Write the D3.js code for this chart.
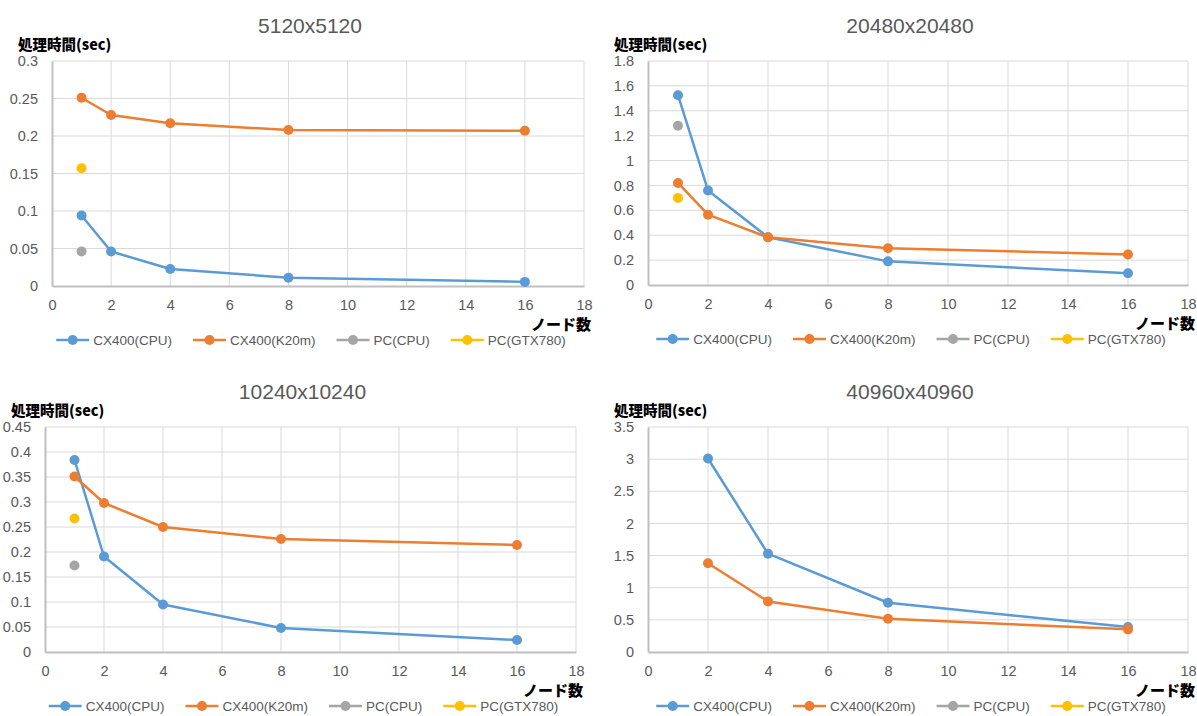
<!DOCTYPE html>
<html>
<head>
<meta charset="utf-8">
<script src="https://cdn.jsdelivr.net/npm/d3@7/dist/d3.min.js"></script>
<style>
  html, body { margin: 0; padding: 0; background: #fff; }
  svg { display: block; }
  text { font-family: "Liberation Sans", Arial, sans-serif; }
  .jp { font-family: "Noto Sans CJK JP", "Noto Sans", sans-serif; font-weight: 900; }
</style>
</head>
<body>
<svg id="chart" width="1197" height="716"></svg>
<script>
// ---------- DATA ----------
const seriesNames = ["CX400(CPU)", "CX400(K20m)", "PC(CPU)", "PC(GTX780)"];
const xTicks = [0, 2, 4, 6, 8, 10, 12, 14, 16, 18];
const yAxisTitle = "処理時間(sec)";
const xAxisTitle = "ノード数";

// 5120x5120
const title5120 = "5120x5120";
const nodes5120 = [1, 2, 4, 8, 16];
const cx400cpu5120 = [0.094, 0.046, 0.0227, 0.011, 0.0055];
const cx400k20m5120 = [0.251, 0.228, 0.217, 0.208, 0.207];
const pcNodes5120 = [1];
const pccpu5120 = [0.046];
const pcgtx5120 = [0.157];
const yTicks5120 = [0, 0.05, 0.1, 0.15, 0.2, 0.25, 0.3];

// 20480x20480
const title20480 = "20480x20480";
const nodes20480 = [1, 2, 4, 8, 16];
const cx400cpu20480 = [1.525, 0.76, 0.384, 0.19, 0.095];
const cx400k20m20480 = [0.82, 0.565, 0.383, 0.296, 0.245];
const pcNodes20480 = [1];
const pccpu20480 = [1.28];
const pcgtx20480 = [0.70];
const yTicks20480 = [0, 0.2, 0.4, 0.6, 0.8, 1, 1.2, 1.4, 1.6, 1.8];

// 10240x10240
const title10240 = "10240x10240";
const nodes10240 = [1, 2, 4, 8, 16];
const cx400cpu10240 = [0.384, 0.191, 0.095, 0.048, 0.024];
const cx400k20m10240 = [0.351, 0.298, 0.25, 0.226, 0.214];
const pcNodes10240 = [1];
const pccpu10240 = [0.173];
const pcgtx10240 = [0.267];
const yTicks10240 = [0, 0.05, 0.1, 0.15, 0.2, 0.25, 0.3, 0.35, 0.4, 0.45];

// 40960x40960
const title40960 = "40960x40960";
const nodes40960 = [2, 4, 8, 16];
const cx400cpu40960 = [3.01, 1.53, 0.766, 0.388];
const cx400k20m40960 = [1.38, 0.787, 0.517, 0.352];
const pcNodes40960 = [];
const pccpu40960 = [];
const pcgtx40960 = [];
const yTicks40960 = [0, 0.5, 1, 1.5, 2, 2.5, 3, 3.5];

// ---------- STYLE / LAYOUT ----------
const colors = ["#5b9bd5", "#ed7d31", "#a5a5a5", "#ffc000"];
const panels = [
  { title: title5120, nodes: nodes5120, pcNodes: pcNodes5120,
    series: [cx400cpu5120, cx400k20m5120, pccpu5120, pcgtx5120], yTicks: yTicks5120,
    box: { l: 52, r: 584, t: 61, b: 286 } },
  { title: title20480, nodes: nodes20480, pcNodes: pcNodes20480,
    series: [cx400cpu20480, cx400k20m20480, pccpu20480, pcgtx20480], yTicks: yTicks20480,
    box: { l: 648, r: 1188, t: 61, b: 285 } },
  { title: title10240, nodes: nodes10240, pcNodes: pcNodes10240,
    series: [cx400cpu10240, cx400k20m10240, pccpu10240, pcgtx10240], yTicks: yTicks10240,
    box: { l: 45, r: 576, t: 427, b: 652 } },
  { title: title40960, nodes: nodes40960, pcNodes: pcNodes40960,
    series: [cx400cpu40960, cx400k20m40960, pccpu40960, pcgtx40960], yTicks: yTicks40960,
    box: { l: 648, r: 1188, t: 427, b: 652 } }
];

const svg = d3.select("#chart");

function drawPanel(p) {
  const B = p.box;
  const g = svg.append("g");
  const x = d3.scaleLinear().domain([0, 18]).range([B.l, B.r]);
  const yMax = p.yTicks[p.yTicks.length - 1];
  const y = d3.scaleLinear().domain([0, yMax]).range([B.b, B.t]);

  // gridlines
  g.append("g").selectAll("line").data(p.yTicks.slice(1)).join("line")
    .attr("x1", B.l).attr("x2", B.r)
    .attr("y1", d => y(d)).attr("y2", d => y(d))
    .attr("stroke", "#d9d9d9").attr("stroke-width", 1);
  g.append("g").selectAll("line").data(xTicks.slice(1)).join("line")
    .attr("x1", d => x(d)).attr("x2", d => x(d))
    .attr("y1", B.t).attr("y2", B.b)
    .attr("stroke", "#d9d9d9").attr("stroke-width", 1);

  // axes via d3 axis generators
  const yAxis = d3.axisLeft(y).tickValues(p.yTicks).tickSize(0).tickPadding(14)
    .tickFormat(d => String(+d.toFixed(4)));
  const ya = g.append("g").attr("transform", `translate(${B.l},0)`).call(yAxis);
  ya.select(".domain").attr("stroke", "#bfbfbf").attr("stroke-width", 2);
  ya.selectAll("text").attr("fill", "#595959").attr("font-size", 14.5);

  const xAxis = d3.axisBottom(x).tickValues(xTicks).tickSize(0).tickPadding(14)
    .tickFormat(d => String(d));
  const xa = g.append("g").attr("transform", `translate(0,${B.b})`).call(xAxis);
  xa.select(".domain").attr("stroke", "#bfbfbf").attr("stroke-width", 2);
  xa.selectAll("text").attr("fill", "#595959").attr("font-size", 14.5);

  // series
  p.series.forEach((vals, i) => {
    const xs = i < 2 ? p.nodes : p.pcNodes;
    const pts = vals.map((v, k) => [xs[k], v]);
    if (pts.length > 1) {
      g.append("path").datum(pts)
        .attr("fill", "none").attr("stroke", colors[i]).attr("stroke-width", 2.5)
        .attr("stroke-linejoin", "round")
        .attr("d", d3.line().x(d => x(d[0])).y(d => y(d[1])));
    }
    g.append("g").selectAll("circle").data(pts).join("circle")
      .attr("cx", d => x(d[0])).attr("cy", d => y(d[1])).attr("r", 5)
      .attr("fill", colors[i]);
  });

  // title
  const cx = (B.l + B.r) / 2;
  g.append("text").attr("x", cx - 8).attr("y", B.t - 36)
    .attr("text-anchor", "middle").attr("dominant-baseline", "central")
    .attr("font-size", 21).attr("fill", "#595959").text(p.title);

  // y-axis title
  g.append("text").attr("class", "jp").attr("x", B.l - 34).attr("y", B.t - 18)
    .attr("dominant-baseline", "central")
    .attr("font-size", 14.5).attr("fill", "#000").text(yAxisTitle);

  // x-axis title
  g.append("text").attr("class", "jp").attr("x", B.r + 7).attr("y", B.b + 37)
    .attr("text-anchor", "end").attr("dominant-baseline", "central")
    .attr("font-size", 15).attr("fill", "#000").text(xAxisTitle);

  // legend
  const lg = g.append("g");
  const ly = B.b + 54;
  const items = lg.selectAll("g").data(seriesNames).join("g");
  items.append("line").attr("x1", 0).attr("x2", 33).attr("y1", 0).attr("y2", 0)
    .attr("stroke", (d, i) => colors[i]).attr("stroke-width", 2.5);
  items.append("circle").attr("cx", 16.5).attr("cy", 0).attr("r", 5)
    .attr("fill", (d, i) => colors[i]);
  items.append("text").attr("x", 37).attr("y", 0).attr("dominant-baseline", "central")
    .attr("font-size", 13.5).attr("fill", "#595959").text(d => d);
  const widths = [];
  items.each(function () { widths.push(this.getBBox().width); });
  const gap = 21;
  const total = d3.sum(widths) + gap * (widths.length - 1);
  let pos = cx - 7 - total / 2;
  items.attr("transform", (d, i) => {
    const t = `translate(${pos},${ly})`;
    pos += widths[i] + gap;
    return t;
  });
}

panels.forEach(drawPanel);
</script>
</body>
</html>
